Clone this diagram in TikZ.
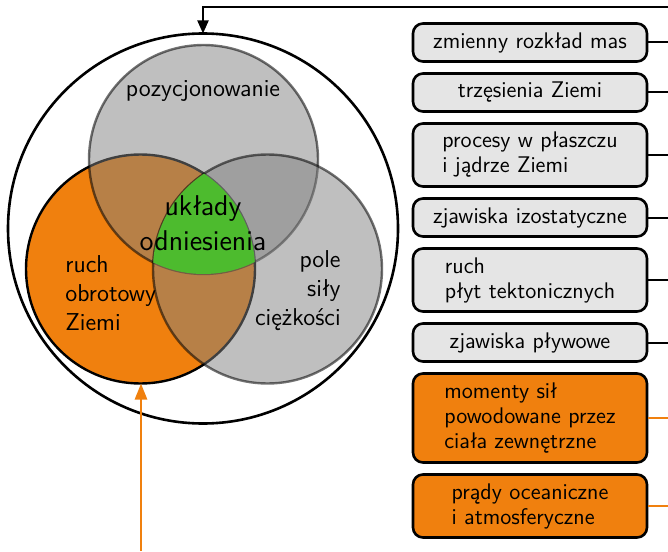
\documentclass[tikz,border=0pt]{standalone}
\usepackage{fontspec}
\usepackage{tikz}
\usetikzlibrary{positioning,calc}
\usetikzlibrary{arrows.meta}
\definecolor{myorange}{RGB}{240,128,14}
\definecolor{mygreen}{RGB}{77,187,46}

\begin{document}
\begin{tikzpicture}[
  x = 0.5pt,
  y = -0.5pt,
  venn/.style = {
    circle,
    inner sep = 0pt,
    outer sep = 0pt,
    minimum size = 114.5pt,
    line width = 1.2pt,
  },
  grayset/.style = {
    venn,
    fill = gray,
    fill opacity = 0.5,
    draw = black,
    draw opacity = 0.55,
  },
  orangeset/.style = {
    venn,
    fill = myorange,
    draw = black,
  },
  lbl/.style = {
    inner sep = 0pt,
    font = \sffamily\fontsize{12.2}{14.5}\selectfont,
  },
  cause/.style = {
    draw,
    rectangle,
    rounded corners = 5pt,
    line width = 1.3pt,
    fill = black!10,
    minimum width = 117pt,
    minimum height = 19pt,
    inner sep = 2pt,
    align = left,
    font = \sffamily\fontsize{11.3}{12.5}\selectfont,
  },
  ocause/.style = {
    cause,
    fill = myorange,
  },
  two/.style = {minimum height = 31.5pt},
  three/.style = {minimum height = 44.5pt},
  link/.style = {line width = 1pt},
  >={Triangle[length=6.5pt,width=5.5pt]},
]
  \useasboundingbox (0,0) rectangle (668,551);

  % zbiory
  \node[venn,draw,line width=1.3pt,minimum size=195pt] (earth) at (203,228.5) {};
  \node[orangeset] (rot) at (140.5,269) {};
  \node[grayset] (pos) at (203.5,159.5) {};
  \node[grayset] (grav) at (267.5,269) {};
  \begin{scope}
    \clip (rot.center) circle (57.25pt);
    \clip (grav.center) circle (57.25pt);
    \fill[mygreen] (pos.center) circle (57.25pt);
  \end{scope}

  \node[lbl,anchor=base] (posl) at (203,97) {pozycjonowanie};
  \node[lbl,anchor=base west,align=left] (rotl) at (65,330) {ruch\\obrotowy\\Ziemi};
  \node[lbl,anchor=base east,align=right] (gravl) at (341,325) {pole\\siły\\ciężkości};
  \node[lbl,font=\sffamily\fontsize{14.3}{17.5}\selectfont,anchor=base,align=center] (refl) at (203,250) {układy\\odniesienia};

  % przyczyny
  \node[cause] (c1) at (530,42.5) {zmienny rozkład mas};
  \node[cause] (c2) [below=4.7pt of c1] {trzęsienia Ziemi};
  \node[cause,two] (c3) [below=4.7pt of c2] {procesy w płaszczu\\i jądrze Ziemi};
  \node[cause] (c4) [below=4.7pt of c3] {zjawiska izostatyczne};
  \node[cause,two] (c5) [below=4.7pt of c4] {ruch\\płyt tektonicznych};
  \node[cause] (c6) [below=4.7pt of c5] {zjawiska pływowe};
  \node[ocause,three] (c7) [below=4.7pt of c6] {momenty sił\\powodowane przez\\ciała zewnętrzne};
  \node[ocause,two] (c8) [below=4.7pt of c7] {prądy oceaniczne\\i atmosferyczne};

  \coordinate (rim) at (668,0);
  \coordinate (fromtop) at (668,7);
  \coordinate (frombot) at (141,551);

  \foreach \c in {c1,c2,c3,c4,c5,c6}
    \draw[link] (\c.east) -- (\c.east -| rim);
  \foreach \c in {c7,c8}
    \draw[link,myorange] (\c.east) -- (\c.east -| rim);

  \draw[link,->] (fromtop) -| (earth.north);
  \draw[line width=1.3pt,myorange,-{Triangle[length=8pt,width=6pt]}] (frombot) -- (frombot |- rot.south);

\end{tikzpicture}
\end{document}
